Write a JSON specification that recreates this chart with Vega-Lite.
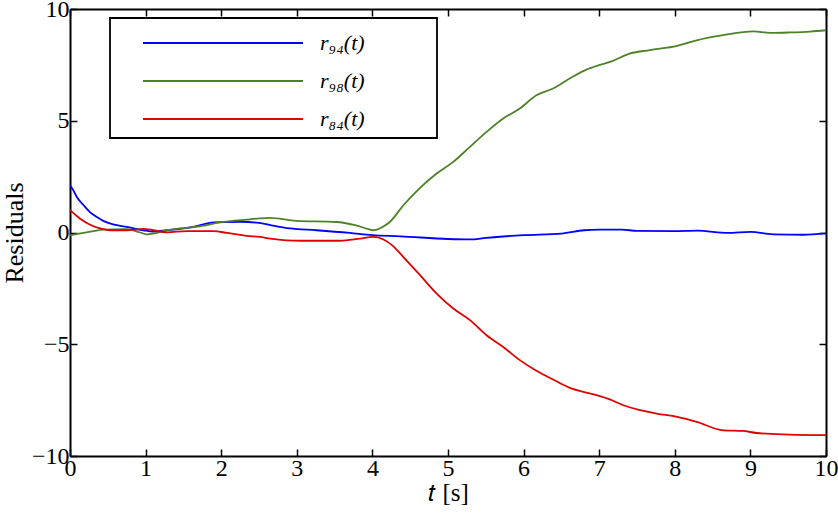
{
  "$schema": "https://vega.github.io/schema/vega-lite/v6.json",
  "width": 756,
  "height": 447,
  "autosize": {"type": "none"},
  "padding": {"left": 70, "top": 9, "right": 12, "bottom": 59},
  "background": "white",
  "config": {
    "view": {"stroke": null},
    "font": "Liberation Serif",
    "axis": {"labelFont": "Liberation Serif", "titleFont": "Liberation Serif", "labelColor": "black", "titleColor": "black", "domainColor": "black", "tickColor": "black", "domainWidth": 2, "tickWidth": 1.5, "grid": false},
    "legend": {"strokeColor": "black", "strokeWidth": 1.8, "fillColor": "white", "cornerRadius": 0, "padding": 8}
  },
  "data": {"values": [
    {"s":"r94","t":0,"v":2.12},{"s":"r94","t":0.05,"v":1.85},{"s":"r94","t":0.09,"v":1.59},{"s":"r94","t":0.18,"v":1.22},{"s":"r94","t":0.26,"v":0.92},{"s":"r94","t":0.35,"v":0.7},{"s":"r94","t":0.44,"v":0.52},{"s":"r94","t":0.57,"v":0.36},{"s":"r94","t":0.75,"v":0.25},{"s":"r94","t":0.97,"v":0.1},{"s":"r94","t":1.1,"v":0.04},{"s":"r94","t":1.28,"v":0.1},{"s":"r94","t":1.63,"v":0.25},{"s":"r94","t":1.9,"v":0.45},{"s":"r94","t":2.25,"v":0.48},{"s":"r94","t":2.5,"v":0.43},{"s":"r94","t":2.65,"v":0.33},{"s":"r94","t":2.91,"v":0.18},{"s":"r94","t":3.26,"v":0.1},{"s":"r94","t":3.7,"v":-0.02},{"s":"r94","t":4.0,"v":-0.12},{"s":"r94","t":4.37,"v":-0.17},{"s":"r94","t":5.0,"v":-0.29},{"s":"r94","t":5.3,"v":-0.31},{"s":"r94","t":5.5,"v":-0.24},{"s":"r94","t":6.0,"v":-0.12},{"s":"r94","t":6.5,"v":-0.05},{"s":"r94","t":6.8,"v":0.1},{"s":"r94","t":7.0,"v":0.13},{"s":"r94","t":7.3,"v":0.13},{"s":"r94","t":7.5,"v":0.07},{"s":"r94","t":8.0,"v":0.06},{"s":"r94","t":8.3,"v":0.08},{"s":"r94","t":8.7,"v":-0.02},{"s":"r94","t":9.0,"v":0.03},{"s":"r94","t":9.3,"v":-0.08},{"s":"r94","t":9.7,"v":-0.1},{"s":"r94","t":10,"v":-0.04},
    {"s":"r98","t":0,"v":-0.13},{"s":"r98","t":0.31,"v":0.06},{"s":"r98","t":0.44,"v":0.13},{"s":"r98","t":0.75,"v":0.15},{"s":"r98","t":0.93,"v":0.0},{"s":"r98","t":1.01,"v":-0.08},{"s":"r98","t":1.1,"v":-0.05},{"s":"r98","t":1.28,"v":0.1},{"s":"r98","t":1.45,"v":0.18},{"s":"r98","t":1.72,"v":0.28},{"s":"r98","t":1.98,"v":0.45},{"s":"r98","t":2.34,"v":0.58},{"s":"r98","t":2.51,"v":0.63},{"s":"r98","t":2.64,"v":0.65},{"s":"r98","t":2.99,"v":0.52},{"s":"r98","t":3.52,"v":0.47},{"s":"r98","t":3.77,"v":0.33},{"s":"r98","t":3.95,"v":0.15},{"s":"r98","t":4.01,"v":0.1},{"s":"r98","t":4.06,"v":0.13},{"s":"r98","t":4.15,"v":0.28},{"s":"r98","t":4.23,"v":0.47},{"s":"r98","t":4.41,"v":1.22},{"s":"r98","t":4.63,"v":2.0},{"s":"r98","t":4.85,"v":2.64},{"s":"r98","t":5.07,"v":3.16},{"s":"r98","t":5.29,"v":3.83},{"s":"r98","t":5.51,"v":4.5},{"s":"r98","t":5.73,"v":5.1},{"s":"r98","t":5.95,"v":5.55},{"s":"r98","t":6.17,"v":6.14},{"s":"r98","t":6.39,"v":6.44},{"s":"r98","t":6.61,"v":6.89},{"s":"r98","t":6.83,"v":7.29},{"s":"r98","t":7.01,"v":7.5},{"s":"r98","t":7.14,"v":7.63},{"s":"r98","t":7.41,"v":8.01},{"s":"r98","t":7.67,"v":8.16},{"s":"r98","t":8.03,"v":8.35},{"s":"r98","t":8.29,"v":8.6},{"s":"r98","t":8.64,"v":8.83},{"s":"r98","t":9.04,"v":9.0},{"s":"r98","t":9.26,"v":8.93},{"s":"r98","t":9.52,"v":8.95},{"s":"r98","t":9.79,"v":8.99},{"s":"r98","t":10,"v":9.05},
    {"s":"r84","t":0,"v":1.0},{"s":"r84","t":0.13,"v":0.63},{"s":"r84","t":0.26,"v":0.36},{"s":"r84","t":0.4,"v":0.18},{"s":"r84","t":0.53,"v":0.1},{"s":"r84","t":0.75,"v":0.1},{"s":"r84","t":0.97,"v":0.16},{"s":"r84","t":1.1,"v":0.1},{"s":"r84","t":1.28,"v":0.01},{"s":"r84","t":1.54,"v":0.06},{"s":"r84","t":1.9,"v":0.06},{"s":"r84","t":2.08,"v":-0.02},{"s":"r84","t":2.34,"v":-0.15},{"s":"r84","t":2.51,"v":-0.2},{"s":"r84","t":2.65,"v":-0.27},{"s":"r84","t":3.04,"v":-0.37},{"s":"r84","t":3.57,"v":-0.37},{"s":"r84","t":3.84,"v":-0.27},{"s":"r84","t":4.01,"v":-0.2},{"s":"r84","t":4.14,"v":-0.3},{"s":"r84","t":4.27,"v":-0.6},{"s":"r84","t":4.41,"v":-1.1},{"s":"r84","t":4.63,"v":-1.91},{"s":"r84","t":4.85,"v":-2.73},{"s":"r84","t":5.07,"v":-3.4},{"s":"r84","t":5.29,"v":-3.92},{"s":"r84","t":5.51,"v":-4.6},{"s":"r84","t":5.73,"v":-5.12},{"s":"r84","t":5.95,"v":-5.71},{"s":"r84","t":6.17,"v":-6.19},{"s":"r84","t":6.39,"v":-6.58},{"s":"r84","t":6.61,"v":-6.95},{"s":"r84","t":6.83,"v":-7.16},{"s":"r84","t":7.01,"v":-7.32},{"s":"r84","t":7.14,"v":-7.47},{"s":"r84","t":7.32,"v":-7.73},{"s":"r84","t":7.54,"v":-7.95},{"s":"r84","t":7.76,"v":-8.1},{"s":"r84","t":8.03,"v":-8.25},{"s":"r84","t":8.29,"v":-8.47},{"s":"r84","t":8.64,"v":-8.85},{"s":"r84","t":8.9,"v":-8.88},{"s":"r84","t":9.08,"v":-8.97},{"s":"r84","t":9.52,"v":-9.04},{"s":"r84","t":10,"v":-9.07}
  ]},
  "layer": [
    {
      "mark": {"type": "line", "strokeWidth": 1.8, "interpolate": "monotone", "clip": true},
      "encoding": {
        "x": {"field": "t", "type": "quantitative", "scale": {"domain": [0, 10], "nice": false},
              "axis": {"orient": "bottom", "title": "𝑡 [s]", "titleFontSize": 25, "titleFontWeight": "normal", "titlePadding": 0, "labelFontSize": 24, "labelPadding": 7, "tickSize": -7, "values": [0,1,2,3,4,5,6,7,8,9,10], "labelFlush": false}},
        "y": {"field": "v", "type": "quantitative", "scale": {"domain": [-10, 10], "nice": false},
              "axis": {"orient": "left", "title": "Residuals", "titleFontSize": 26, "titleFontWeight": "normal", "titlePadding": 4, "labelFontSize": 24, "labelPadding": 8, "tickSize": -7, "values": [-10,-5,0,5,10], "labelFlush": false}},
        "color": {"field": "s", "type": "nominal",
                  "scale": {"domain": ["r94", "r98", "r84"], "range": ["#0000ff", "#4d8229", "#e00000"]},
                  "legend": {"orient": "none", "legendX": 40, "legendY": 9, "title": null,
                             "symbolType": "M0.5,0H10.5", "symbolSize": 1024, "symbolStrokeWidth": 1.8,
                             "labelFontSize": 22, "labelFont": "Liberation Serif", "labelFontStyle": "italic", "labelColor": "black", "labelOffset": 168,
                             "rowPadding": 10,
                             "labelExpr": "datum.label == 'r94' ? 'r₉₄(t)\u2800\u2800\u2800\u2800' : datum.label == 'r98' ? 'r₉₈(t)\u2800\u2800\u2800\u2800' : 'r₈₄(t)\u2800\u2800\u2800\u2800'"}}
      }
    },
    {
      "mark": {"type": "line", "strokeOpacity": 0},
      "encoding": {
        "x": {"field": "t", "type": "quantitative", "scale": {"domain": [0, 10], "nice": false},
              "axis": {"orient": "top", "title": null, "labels": false, "tickSize": -7, "values": [0,1,2,3,4,5,6,7,8,9,10]}},
        "y": {"field": "v", "type": "quantitative", "scale": {"domain": [-10, 10], "nice": false},
              "axis": {"orient": "right", "title": null, "labels": false, "tickSize": -7, "values": [-10,-5,0,5,10]}},
        "detail": {"field": "s", "type": "nominal"}
      }
    }
  ],
  "resolve": {"axis": {"x": "independent", "y": "independent"}}
}
